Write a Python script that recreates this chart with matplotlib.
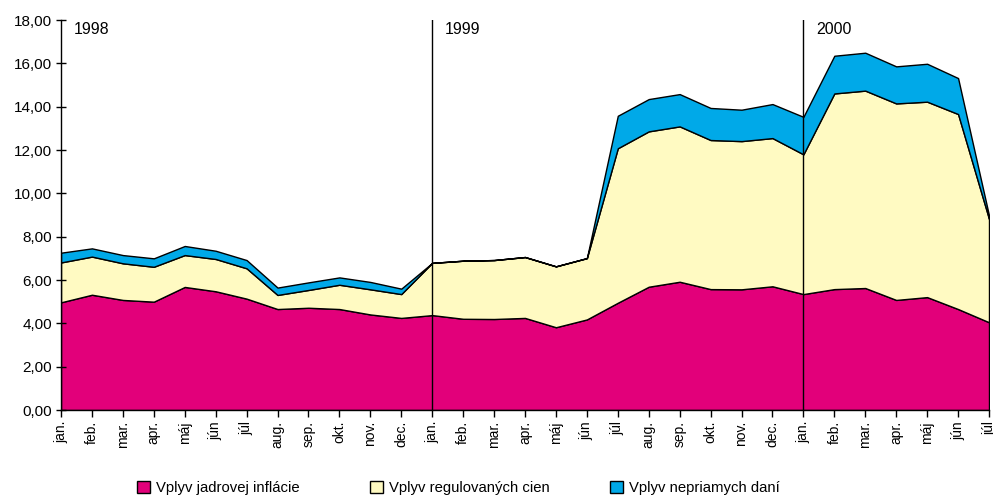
import matplotlib.pyplot as plt
from matplotlib.patches import Patch

plt.rcParams['font.family'] = ['Liberation Sans', 'DejaVu Sans']

# months jan 1998 .. júl 2000
months = ['jan.', 'feb.', 'mar.', 'apr.', 'máj', 'jún', 'júl', 'aug.', 'sep.', 'okt.', 'nov.', 'dec.',
          'jan.', 'feb.', 'mar.', 'apr.', 'máj', 'jún', 'júl', 'aug.', 'sep.', 'okt.', 'nov.', 'dec.',
          'jan.', 'feb.', 'mar.', 'apr.', 'máj', 'jún', 'júl']

# cumulative tops
core_top = [4.97, 5.32, 5.08, 5.00, 5.68, 5.48, 5.14, 4.66, 4.72, 4.66, 4.41, 4.25,
            4.38, 4.21, 4.20, 4.25, 3.82, 4.18, 4.95, 5.69, 5.92, 5.58, 5.57, 5.71,
            5.35, 5.58, 5.63, 5.08, 5.21, 4.66, 4.05]
regulated_top = [6.81, 7.08, 6.77, 6.61, 7.15, 6.97, 6.54, 5.31, 5.54, 5.78, 5.57, 5.35,
                 6.79, 6.89, 6.92, 7.06, 6.63, 7.01, 12.08, 12.86, 13.09, 12.46, 12.41, 12.55,
                 11.80, 14.61, 14.74, 14.15, 14.23, 13.66, 8.82]
total_top = [7.26, 7.46, 7.15, 7.00, 7.57, 7.35, 6.92, 5.65, 5.89, 6.12, 5.91, 5.60,
             6.79, 6.89, 6.92, 7.06, 6.63, 7.01, 13.58, 14.35, 14.58, 13.94, 13.86, 14.12,
             13.53, 16.35, 16.49, 15.86, 15.98, 15.32, 8.98]

core = core_top
regulated = [r - c for r, c in zip(regulated_top, core_top)]
taxes = [t - r for t, r in zip(total_top, regulated_top)]

labels = ['Vplyv jadrovej inflácie', 'Vplyv regulovaných cien', 'Vplyv nepriamych daní']
colors = ['#E2007A', '#FFFAC2', '#00A9E8']
years = ['1998', '1999', '2000']

fig = plt.figure(figsize=(9.93, 4.97), dpi=100)
ax = fig.add_axes([61 / 993, 87 / 497, 928 / 993, 390 / 497])

x = list(range(len(months)))
ax.stackplot(x, core, regulated, taxes, colors=colors, edgecolor='black', linewidth=1.0)

# year separators and labels
for i, yr in enumerate(years):
    pos = 12 * i
    if i > 0:
        ax.plot([pos, pos], [0, 18], color='black', linewidth=1.0)
    ax.text(pos + 0.4, 17.58, yr, fontsize=11.5, va='center', ha='left')

ax.set_xlim(0, len(months) - 1)
ax.set_ylim(0, 18)
ax.set_yticks(range(0, 19, 2))
ax.set_yticklabels(['%d,00' % v for v in range(0, 19, 2)], fontsize=11)
ax.set_xticks(x)
ax.set_xticklabels(months, rotation=90, fontsize=10)
ax.tick_params(axis='y', direction='inout', length=7, width=1, pad=3)
ax.tick_params(axis='x', direction='out', length=5, width=1, pad=3)

ax.spines['top'].set_visible(False)
ax.spines['right'].set_visible(False)
for s in ['left', 'bottom']:
    ax.spines[s].set_linewidth(1.0)

# legend entries placed one by one
leg_x = [137 / 993, 370 / 993, 610 / 993]
for lab, col, lx in zip(labels, colors, leg_x):
    h = Patch(facecolor=col, edgecolor='black', linewidth=1.0, label=lab)
    fig.legend(handles=[h], loc='center left', bbox_to_anchor=(lx, 9 / 497), frameon=False,
               fontsize=10.7, handlelength=0.9, handleheight=0.9, handletextpad=0.4,
               borderaxespad=0, borderpad=0)

fig.savefig('out.png', dpi=100)
